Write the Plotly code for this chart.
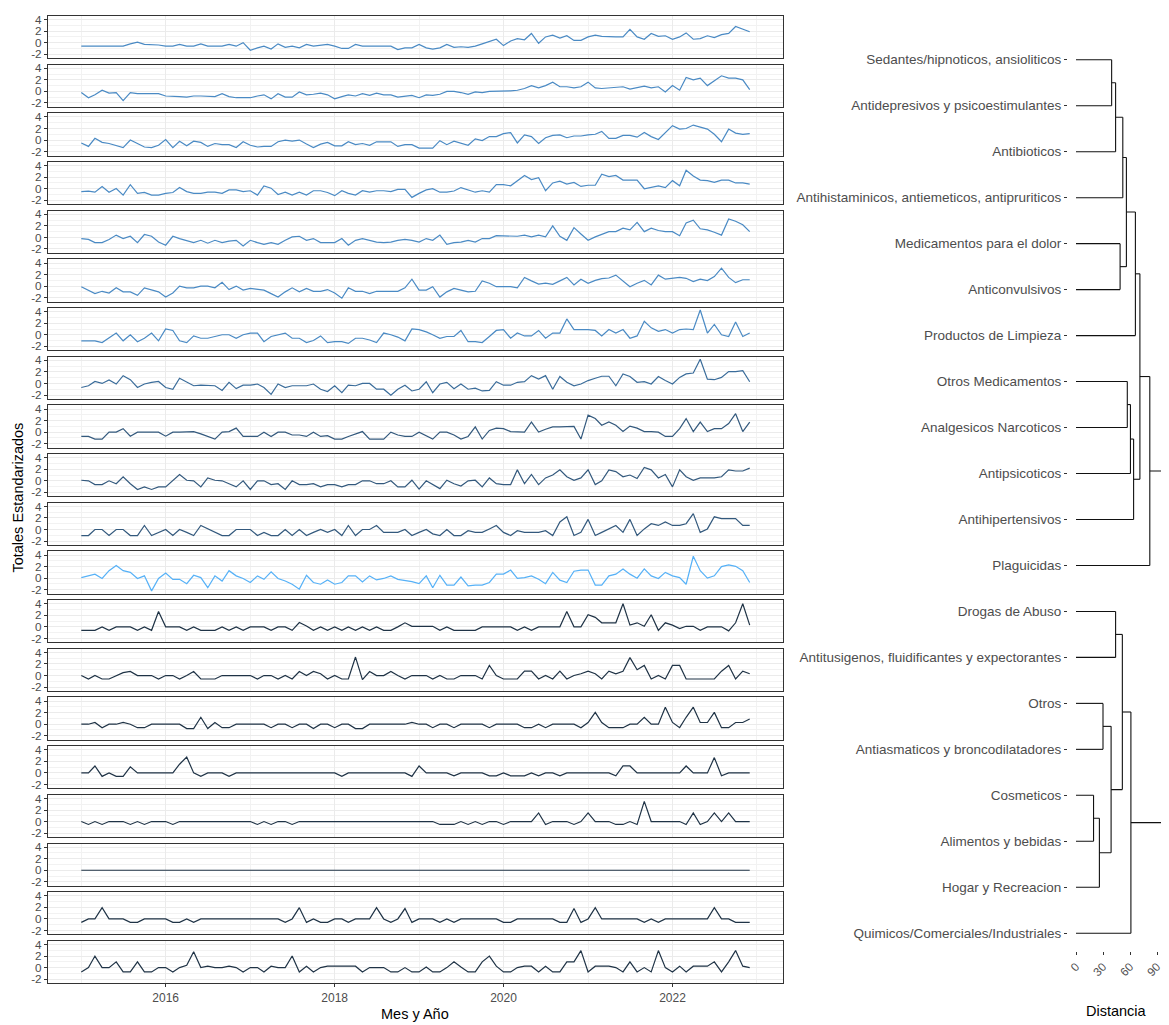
import plotly.graph_objects as go
import pandas as pd

# ---------------- data ----------------
months = pd.date_range("2015-01-01", "2022-12-01", freq="MS")

p01 = [-0.6,-0.6,-0.6,-0.6,-0.6,-0.6,-0.6,-0.2,0.1,-0.3,-0.3,-0.4,
       -0.6,-0.6,-0.3,-0.6,-0.6,-0.2,-0.6,-0.6,-0.6,-0.3,-0.6,0.0,
       -1.3,-0.9,-0.6,-1.1,-0.2,-0.8,-0.6,-0.9,-0.3,-0.6,-0.4,-0.3,
       -0.6,-1.0,-1.0,-0.3,-0.6,-0.6,-0.6,-0.6,-0.6,-1.2,-0.9,-0.9,
       -0.3,-0.9,-1.1,-0.9,-0.3,-0.8,-0.7,-0.8,-0.6,-0.2,0.2,0.6,
       -0.5,0.3,0.7,0.5,1.6,-0.1,1.0,1.3,0.8,1.2,0.4,0.4,
       1.0,1.3,1.1,1.0,1.0,1.0,2.3,1.0,0.6,1.6,1.1,1.2,
       0.6,1.0,1.7,0.6,0.7,1.2,0.9,1.4,1.6,2.8,2.3,1.9]
p02 = [-0.2,-1.1,-0.6,0.2,-0.3,-0.2,-1.6,-0.2,-0.4,-0.4,-0.4,-0.4,
       -0.8,-0.8,-0.9,-1.0,-0.8,-0.8,-0.9,-0.9,-0.4,-0.9,-1.1,-1.1,
       -1.1,-0.8,-0.6,-1.3,-0.4,-1.0,-1.0,-0.1,-0.6,-0.5,-0.3,-0.6,
       -1.3,-0.9,-0.6,-0.8,-0.4,-0.7,-0.3,-0.6,-0.6,-1.0,-0.9,-0.7,
       -1.1,-0.6,-0.7,-0.5,0.0,0.0,-0.2,-0.5,-0.1,-0.2,0.0,0.0,
       0.0,0.1,0.2,0.5,1.0,0.6,1.0,1.6,0.8,0.8,0.6,0.8,
       1.6,0.6,0.5,0.6,0.8,0.8,0.4,0.6,0.9,0.6,0.8,-0.1,
       1.0,0.2,2.4,2.0,2.3,1.0,1.8,2.7,2.3,2.3,2.0,0.3]
p03 = [-0.5,-1.1,0.3,-0.4,-0.6,-0.9,-1.3,0.0,-0.6,-1.2,-1.3,-0.9,
       0.1,-1.3,-0.2,-1.0,-0.2,-0.4,-1.1,-0.6,-0.8,-0.8,-1.3,-0.3,
       -0.9,-1.2,-1.1,-1.1,-0.3,0.0,-0.2,0.0,-0.7,-1.3,-0.7,-0.4,
       -1.0,-1.0,-0.3,-0.8,-0.6,-0.9,-0.3,-0.3,-0.3,-1.1,-0.8,-0.8,
       -1.4,-1.4,-1.4,-0.1,-0.8,-0.2,-0.5,-0.9,0.2,-0.1,0.6,0.6,
       1.1,1.3,-0.5,0.9,0.6,-0.6,0.4,0.8,0.9,0.4,0.7,0.7,
       0.9,1.0,1.5,0.3,0.3,0.8,0.8,0.5,1.3,0.6,0.1,1.3,
       2.5,1.9,2.0,2.6,2.3,1.9,1.0,-0.3,1.9,1.2,1.0,1.1]
p04 = [-0.5,-0.4,-0.6,0.4,-0.6,0.05,-1.1,0.7,-0.8,-0.65,-1.1,-1.1,
       -0.8,-0.65,0.2,-0.5,-0.8,-0.8,-0.6,-0.6,-0.8,-0.2,-0.2,-0.5,
       -0.35,-1.1,0.5,0.1,-1.0,-0.6,-1.1,-0.6,-1.1,-0.35,-0.35,-0.65,
       -1.2,-0.35,-0.8,-1.1,-0.35,-0.6,-0.35,-0.35,-0.5,-0.1,-0.1,-1.5,
       -0.8,-0.2,0.0,-0.6,-0.6,-0.4,0.2,-0.2,-0.6,-0.35,-0.6,0.7,
       0.7,0.5,1.3,2.3,1.6,1.9,-0.35,1.0,1.3,0.8,1.1,0.4,
       0.6,0.6,2.5,2.1,2.3,1.5,1.5,1.5,0.0,0.2,0.5,0.2,
       1.4,0.5,3.2,2.2,1.5,1.4,1.1,1.5,1.5,1.0,1.0,0.8]
p05 = [-0.2,-0.35,-0.9,-0.9,-0.35,0.4,-0.2,0.2,-0.9,0.5,0.2,-0.8,
       -1.35,0.2,-0.2,-0.6,-0.9,-0.5,-1.0,-0.5,-0.9,-0.65,-0.5,-1.5,
       -0.5,-0.9,-1.2,-0.9,-1.2,-0.5,0.1,0.2,-0.5,-0.2,-0.9,-0.9,
       -0.9,-0.2,-1.35,-0.5,-0.2,-0.5,-0.8,-0.9,-0.8,-0.5,-0.35,-0.5,
       -0.8,-0.2,-0.5,0.4,-1.2,-0.9,-0.8,-0.5,-0.8,-0.2,-0.2,0.3,
       0.3,0.2,0.2,0.4,0.1,0.4,0.1,2.0,0.2,-0.5,1.7,0.6,
       -0.5,0.1,0.5,1.0,1.0,1.6,1.3,2.6,1.0,1.6,1.2,1.0,
       1.0,0.3,2.5,3.0,1.5,1.3,0.9,0.4,3.2,2.8,2.2,1.0]
p06 = [-0.1,-0.7,-1.3,-0.9,-1.2,-0.3,-1.0,-1.0,-1.6,-0.3,-0.6,-1.0,
       -1.9,-1.2,0.0,-0.3,-0.3,0.0,0.0,-0.3,0.65,-0.6,0.0,-0.7,
       -0.4,-0.6,-0.7,-1.3,-1.9,-1.0,-0.3,-1.0,-0.4,-0.9,-0.9,-0.6,
       -1.2,-2.1,-0.3,-0.9,-0.9,-1.3,-0.9,-0.9,-0.9,-0.9,-0.3,1.2,
       -0.7,-0.7,-0.1,-1.9,-1.0,-0.4,-0.7,-1.0,-0.9,0.9,0.5,-0.1,
       -0.1,-0.1,-0.3,1.5,0.9,0.35,0.5,0.3,0.9,1.5,0.2,1.2,
       0.5,1.0,1.3,1.4,1.9,0.8,-0.1,0.5,1.0,0.2,1.9,1.2,
       1.35,1.5,1.35,0.8,1.2,0.95,1.65,3.1,1.5,0.6,1.1,1.1]
p07 = [-1.05,-1.05,-1.05,-1.35,-0.6,0.3,-1.05,0.0,-1.2,-0.6,0.3,-1.05,
       1.0,0.75,-1.05,-1.35,-0.2,-0.6,-0.6,-0.3,0.0,0.0,-0.6,0.0,
       0.3,0.3,-1.2,-0.3,0.0,0.3,-0.6,-0.6,-1.35,-1.0,-0.2,-1.35,
       -1.2,-1.2,-1.5,-0.6,-0.6,-0.9,-1.35,0.3,0.0,-0.4,-1.05,1.0,
       0.9,0.5,0.0,-0.6,-0.3,-0.3,0.75,-1.2,-1.2,-1.35,-0.3,0.75,
       0.9,-0.6,0.3,-0.2,-0.2,0.75,-0.6,0.3,0.3,2.75,0.9,0.9,
       0.9,0.75,-0.2,0.9,0.3,0.9,-0.6,-0.2,2.35,1.2,0.6,0.9,
       0.3,0.9,1.0,0.9,4.3,0.3,1.8,0.0,-0.3,2.2,-0.3,0.3]
p08 = [-0.7,-0.4,0.35,0.0,0.6,-0.1,1.35,0.65,-0.7,-0.1,0.2,0.35,
       -0.7,-1.0,0.9,0.2,-0.4,-0.3,-0.4,-0.4,-1.2,0.2,-0.9,-0.3,
       -0.3,-0.1,-0.7,-1.9,-0.1,-0.7,-0.4,-0.4,-0.4,-0.1,-1.0,-1.4,
       -0.4,-1.6,-0.3,-0.4,0.0,0.0,-1.0,-1.0,-2.05,-1.0,-0.3,-1.3,
       -1.0,0.3,-1.6,-0.1,0.2,-0.9,-0.1,-1.0,-0.8,-1.3,-1.2,0.3,
       -0.3,-0.3,0.2,0.3,1.35,0.75,1.35,-1.0,1.2,0.2,-0.4,-0.1,
       0.5,0.9,1.25,1.25,-0.4,1.65,1.2,0.2,0.3,-0.1,1.2,0.5,
       -0.1,1.05,1.65,1.8,4.2,0.75,0.65,1.05,2.05,2.05,2.2,0.3]
p09 = [-0.75,-0.75,-1.2,-1.2,0.0,0.0,0.6,-0.7,0.0,0.0,0.0,0.0,
       -0.7,0.0,0.0,0.0,0.1,-0.3,-0.75,-1.2,0.0,0.1,0.7,-0.75,
       -0.75,-0.75,0.0,-0.75,0.0,0.0,-0.5,-0.5,-0.75,0.0,-0.75,-0.6,
       -1.2,-1.2,-0.75,-0.3,0.1,-1.2,-1.2,-1.2,0.0,-0.5,-0.75,-0.75,
       0.0,-0.6,-1.2,0.0,0.0,-0.5,-1.2,-0.75,0.9,-1.2,0.3,0.7,
       0.6,0.1,0.0,0.0,1.75,0.0,0.5,0.9,0.9,1.0,1.0,-1.2,
       2.95,2.35,1.2,1.75,1.2,0.1,1.05,0.7,0.1,0.1,0.0,-0.75,
       -0.75,0.6,2.35,0.1,1.75,0.1,0.6,0.6,1.5,3.2,0.1,1.75]
p10 = [0.1,0.0,-0.65,-0.65,0.0,-0.5,0.7,-0.5,-1.5,-1.05,-1.5,-1.05,
       -1.05,0.0,1.1,0.1,0.0,-1.05,0.5,0.1,0.0,-0.5,-1.05,0.0,
       -1.5,0.0,0.0,-0.65,-0.5,-1.5,0.0,-0.65,-0.65,-0.5,-1.05,-0.65,
       -0.65,-1.05,-0.65,-0.65,0.0,0.0,-0.5,-0.5,0.0,-1.05,-1.05,0.1,
       -1.45,0.0,-0.65,-1.35,0.1,-0.5,-0.9,0.0,0.1,-1.05,0.5,-0.5,
       -0.65,-0.65,1.9,-0.5,1.1,-0.65,0.5,1.0,1.9,0.7,0.1,0.5,
       1.9,-0.65,0.0,1.9,1.6,0.7,1.0,0.4,2.3,1.9,0.5,1.1,
       -1.05,1.9,0.7,0.1,0.5,0.5,0.5,0.7,1.9,1.7,1.7,2.2]
p11 = [-1.05,-1.05,0.0,0.0,-1.05,0.0,0.0,-1.05,-1.05,0.7,-1.05,-0.5,
       0.0,-1.05,0.0,-0.5,-1.05,0.7,0.1,-0.5,-1.05,-1.05,0.0,0.0,
       0.0,-1.05,-0.5,-1.05,-1.05,0.0,-1.05,0.0,-1.05,-0.5,0.0,-0.5,
       0.0,-1.05,0.7,-1.05,0.0,0.0,0.7,-0.5,-0.5,-0.5,0.0,-1.05,
       -0.5,0.0,-0.75,-1.05,0.0,-1.05,-1.05,-0.2,-0.5,-0.5,0.1,0.7,
       -0.5,-1.05,-0.2,-0.5,-0.5,-0.5,-0.2,-1.05,1.3,2.2,-1.05,-0.5,
       1.75,-1.05,-0.5,0.1,0.7,-0.5,1.75,-1.05,0.1,1.0,0.7,1.3,
       0.7,0.7,1.0,2.75,-0.5,0.1,2.2,1.9,1.9,1.9,0.7,0.7]
p12 = [0.1,0.4,0.7,-0.05,1.3,2.2,1.3,1.0,-0.05,0.4,-2.2,-0.05,
       0.9,-0.2,-0.2,-0.95,0.5,0.1,-1.65,0.4,-0.5,1.3,0.4,-0.05,
       -0.75,0.4,-0.2,1.1,-0.05,-0.5,-1.05,-1.9,0.5,-0.75,-1.05,-0.3,
       -1.05,-0.75,0.4,0.4,-0.65,0.4,-0.3,-0.05,0.4,-0.2,-0.35,-0.6,
       -0.95,0.4,-1.65,0.5,-1.2,-1.2,0.2,-1.35,-1.2,-1.2,-0.75,0.7,
       0.7,1.4,-0.05,0.1,0.4,-0.2,-0.95,1.0,-0.35,-0.75,1.2,1.4,
       1.4,-1.2,-1.2,0.4,0.7,1.6,0.7,0.0,1.6,0.4,-0.05,1.0,
       0.4,0.1,-1.05,3.8,1.3,0.0,0.4,2.0,2.3,2.05,1.3,-0.75]
p13 = [-0.6,-0.6,-0.6,0.0,-0.6,0.0,0.0,0.0,-0.6,0.0,-0.6,2.65,
       0.0,0.0,0.0,-0.6,0.0,-0.6,-0.6,-0.6,0.0,-0.6,0.0,-0.6,
       0.0,0.0,0.0,-0.6,0.0,0.0,-0.6,0.75,0.15,-0.6,0.0,-0.6,
       0.0,-0.6,0.0,-0.6,0.0,-0.6,0.0,-0.6,-0.6,0.0,0.7,0.1,
       0.1,0.1,0.1,-0.6,0.0,-0.6,-0.6,-0.6,-0.6,0.0,0.0,0.0,
       0.0,0.0,-0.6,0.0,-0.6,0.0,0.0,0.0,0.0,2.65,0.0,0.0,
       2.1,1.65,0.7,0.7,0.7,4.0,0.3,0.7,0.1,2.1,-0.6,0.7,
       0.3,-0.3,0.1,0.1,-0.6,0.0,0.0,0.0,-0.7,0.7,4.0,0.3]
p14 = [0.0,-0.6,0.0,-0.6,-0.6,0.0,0.5,0.7,0.0,0.0,0.0,-0.6,
       0.0,0.0,-0.6,0.0,0.7,-0.6,-0.6,-0.6,0.0,0.0,0.0,0.0,
       0.0,-0.6,0.0,0.0,-0.6,0.0,-0.6,0.7,0.0,0.7,0.3,-0.6,
       0.0,-0.6,-0.6,3.2,-0.7,0.7,0.0,0.0,0.7,0.0,-0.6,0.0,
       0.0,0.0,-0.6,0.0,-0.6,-0.6,0.0,0.0,0.0,-0.6,1.75,0.0,
       -0.6,-0.6,-0.6,0.75,0.75,-0.6,0.0,-0.6,0.75,-0.6,0.0,0.3,
       0.75,0.3,-0.6,0.75,0.3,0.75,3.1,1.0,1.75,-0.6,0.0,-0.6,
       1.75,1.75,-0.6,-0.6,-0.6,-0.6,-0.6,0.75,1.75,-0.6,0.75,0.3]
p15 = [0.0,0.0,0.3,-0.6,0.0,0.0,0.3,0.0,-0.6,-0.6,0.0,0.0,
       0.0,0.0,0.0,-0.75,-0.75,1.2,-0.75,0.3,-0.6,-0.6,0.0,0.0,
       0.0,0.0,0.0,-0.6,0.0,0.0,-0.6,0.0,0.0,-0.75,0.0,0.0,
       -0.6,0.0,0.0,-0.75,-0.75,0.0,0.0,0.0,0.0,0.0,0.0,0.3,
       0.0,0.0,-0.6,0.0,0.0,-0.6,0.0,0.0,0.0,0.0,-0.6,0.0,
       0.0,0.0,0.0,-0.6,-0.6,0.0,-0.6,0.0,0.0,0.0,0.0,-0.6,
       0.3,2.05,0.3,-0.6,-0.6,-0.6,0.0,0.0,1.2,0.0,0.0,2.95,
       0.3,-0.6,1.2,2.95,0.3,0.3,2.05,-0.6,-0.6,0.3,0.3,0.9]
p16 = [0.0,0.0,1.2,-0.6,0.0,-0.6,-0.6,1.05,0.0,0.0,0.0,0.0,
       0.0,0.0,1.5,2.75,0.0,-0.6,0.0,0.0,0.0,-0.6,0.0,0.0,
       0.0,0.0,0.0,0.0,0.0,0.0,0.0,0.0,0.0,0.0,0.0,0.0,
       0.0,-0.6,0.0,0.0,0.0,0.0,0.0,0.0,0.0,0.0,0.0,-0.6,
       1.2,0.0,0.0,0.0,0.0,-0.5,0.0,0.0,0.0,0.0,-0.5,-0.5,
       0.0,-0.5,-0.5,-0.5,0.0,-0.5,0.0,0.0,-0.5,0.0,0.0,0.0,
       0.0,0.0,0.0,0.0,-0.5,1.2,1.2,0.0,0.0,0.0,0.0,0.0,
       0.0,0.0,1.2,0.0,0.0,0.0,2.65,-0.5,0.0,0.0,0.0,0.0]
p17 = [0.0,-0.5,0.0,-0.5,0.0,0.0,0.0,-0.5,0.0,-0.5,0.0,0.0,
       0.0,-0.5,0.0,0.0,0.0,0.0,0.0,0.0,0.0,0.0,0.0,0.0,
       0.0,-0.5,0.0,-0.5,0.0,0.0,-0.5,0.0,0.0,0.0,0.0,0.0,
       0.0,0.0,0.0,0.0,0.0,0.0,0.0,0.0,0.0,0.0,0.0,0.0,
       0.0,0.0,0.0,-0.5,-0.5,-0.5,0.0,-0.5,0.0,-0.5,0.0,0.0,
       -0.5,0.0,0.0,0.0,0.0,1.5,-0.5,0.0,0.0,0.0,-0.5,0.0,
       1.5,0.0,0.0,0.0,-0.5,-0.5,0.0,-0.5,3.5,0.0,0.0,0.0,
       0.0,0.0,-0.5,1.5,-0.5,0.0,1.5,0.0,1.5,0.0,0.0,0.0]
p18 = [0.0] * 96
p19 = [-0.6,0.0,0.0,1.95,0.0,0.0,0.0,-0.6,-0.6,0.0,0.0,0.0,
       0.0,-0.6,-0.6,0.0,-0.6,0.0,0.0,0.0,0.0,0.0,0.0,0.0,
       0.0,0.0,0.0,0.0,0.0,-0.6,0.0,1.95,-0.6,0.0,-0.6,-0.6,
       0.0,0.0,-0.6,0.0,0.0,0.0,1.95,0.0,-0.6,0.0,1.8,-0.6,
       0.0,0.0,0.0,-0.6,0.0,-0.6,0.0,0.0,0.0,0.0,0.0,0.0,
       -0.6,-0.6,0.0,0.0,0.0,0.0,0.0,0.0,-0.6,-0.6,1.8,-0.6,
       0.0,1.95,0.0,0.0,0.0,0.0,0.0,0.0,-0.6,0.0,-0.6,0.0,
       0.0,0.0,0.0,0.0,0.0,0.0,1.95,0.0,0.0,-0.6,-0.6,-0.6]
p20 = [-0.75,0.0,2.0,0.0,0.0,1.0,-0.75,-0.75,1.0,-0.75,-0.75,0.0,
       0.0,-0.75,0.0,0.4,2.75,0.0,0.25,0.0,0.0,0.25,0.0,-0.75,
       0.0,0.0,-0.75,0.25,0.0,0.0,2.0,-0.75,0.25,-0.75,0.0,0.25,
       0.25,0.25,0.25,0.25,-0.75,0.0,0.0,0.0,-0.75,-0.75,0.0,-0.75,
       -0.75,0.1,-0.75,-0.75,0.0,1.0,0.1,-0.75,-0.75,1.0,2.0,0.25,
       -0.75,-0.75,0.0,0.25,0.25,-0.75,0.25,-0.75,-0.75,1.0,1.0,2.95,
       -0.75,0.25,0.25,0.25,0.0,-0.75,1.0,-0.75,0.0,-0.75,2.95,0.0,
       -0.75,0.25,-0.75,0.25,0.25,0.25,1.0,-0.75,1.0,2.95,0.25,0.0]

panels = [p01, p02, p03, p04, p05, p06, p07, p08, p09, p10,
          p11, p12, p13, p14, p15, p16, p17, p18, p19, p20]

y_ticks = [-2, 0, 2, 4]
x_tick_years = ["2016", "2018", "2020", "2022"]

leaf_labels = [
    "Sedantes/hipnoticos, ansioliticos",
    "Antidepresivos y psicoestimulantes",
    "Antibioticos",
    "Antihistaminicos, antiemeticos, antipruriticos",
    "Medicamentos para el dolor",
    "Anticonvulsivos",
    "Productos de Limpieza",
    "Otros Medicamentos",
    "Analgesicos Narcoticos",
    "Antipsicoticos",
    "Antihipertensivos",
    "Plaguicidas",
    "Drogas de Abuso",
    "Antitusigenos, fluidificantes y expectorantes",
    "Otros",
    "Antiasmaticos y broncodilatadores",
    "Cosmeticos",
    "Alimentos y bebidas",
    "Hogar y Recreacion",
    "Quimicos/Comerciales/Industriales",
]
# merges: (child a, child b, height); leaves 0..19, new nodes 20, 21, ...
merge_a = [0, 20, 21, 4, 22, 24, 7, 26, 27, 25, 29, 12, 14, 16, 33, 32, 31, 36, 30]
merge_b = [1, 2, 3, 5, 23, 6, 8, 9, 10, 28, 11, 13, 15, 17, 18, 34, 35, 19, 37]
merge_h = [39.6, 44, 52, 49, 56, 66, 57, 60.5, 64, 71, 82, 44, 30, 19.5, 26, 39, 51.5, 61, 125]
dist_ticks = [0, 30, 60, 90]

# ---------------- styling ----------------
# page body adds an 8px offset; the figure is sized so it ends at the window edge
OFF = 8
W, H = 1169 - OFF, 1025 - OFF
colors = ["#4A8AC4"] * 7 + ["#3A6C9A"] + ["#33597D"] * 3 + ["#56B1F7"] + ["#1F3346"] * 8


def px_x(p):
    return (p - OFF) / W


def px_y(p):
    return 1 - (p - OFF) / H


fig = go.Figure()
layout = {}

left_x0, left_x1 = 48, 783
top0, ph, pitch = 13, 42.4, 48.92
x_range = ["2014-08-10", "2023-04-24"]
tick_font = dict(family="Liberation Sans, Arial, sans-serif", size=11.7, color="#4D4D4D")
label_font = dict(family="Liberation Sans, Arial, sans-serif", size=13.5, color="#4D4D4D")

n_pan = len(panels)
for i, vals in enumerate(panels):
    k = i + 1
    xa = "x" if k == 1 else f"x{k}"
    ya = "y" if k == 1 else f"y{k}"
    fig.add_trace(go.Scatter(x=months, y=vals, mode="lines",
                             line=dict(color=colors[i], width=1.2),
                             xaxis=xa, yaxis=ya, showlegend=False,
                             hoverinfo="skip"))
    t = top0 + i * pitch
    b = t + ph
    last = (i == n_pan - 1)
    layout[f"xaxis{k}"] = dict(
        domain=[px_x(left_x0), px_x(left_x1)], anchor=ya, type="date",
        range=x_range, showline=True, mirror=True, linecolor="#333333", linewidth=1.1,
        tickmode="array", tickvals=[f"{y}-01-01" for y in x_tick_years],
        ticktext=x_tick_years if last else [""] * len(x_tick_years),
        showticklabels=last, ticks="outside" if last else "", ticklen=3, tickcolor="#333333",
        tickfont=dict(family="Liberation Sans, Arial, sans-serif", size=12, color="#4D4D4D"),
        showgrid=True, gridcolor="#EBEBEB", gridwidth=1, zeroline=False,
        minor=dict(tickvals=[f"{y}-01-01" for y in range(2015, 2024, 2)],
                   showgrid=True, gridcolor="#F2F2F2", gridwidth=0.6, ticks=""),
    )
    layout[f"yaxis{k}"] = dict(
        domain=[px_y(b), px_y(t)], anchor=xa, range=[-2.68, 4.63],
        showline=True, mirror=True, linecolor="#333333", linewidth=1.1,
        tickmode="array", tickvals=y_ticks, ticktext=[str(v) for v in y_ticks],
        ticks="outside", ticklen=3, tickcolor="#333333", tickfont=tick_font,
        showgrid=True, gridcolor="#EBEBEB", gridwidth=1, zeroline=False,
        minor=dict(tickvals=[-1, 1, 3], showgrid=True, gridcolor="#F2F2F2",
                   gridwidth=0.6, ticks=""),
    )

# ---------------- dendrogram ----------------
n_leaf = len(leaf_labels)
pos = {j: j + 1 for j in range(n_leaf)}
hgt = {j: 0.0 for j in range(n_leaf)}
sx, sy = [], []
for m, (a, b, h) in enumerate(zip(merge_a, merge_b, merge_h)):
    node = n_leaf + m
    for c in (a, b):
        sx += [hgt[c], h, None]
        sy += [pos[c], pos[c], None]
    sx += [h, h, None]
    sy += [pos[a], pos[b], None]
    pos[node] = (pos[a] + pos[b]) / 2
    hgt[node] = h

kd = n_pan + 1
fig.add_trace(go.Scatter(x=sx, y=sy, mode="lines", line=dict(color="#111111", width=1.1),
                         xaxis=f"x{kd}", yaxis=f"y{kd}", showlegend=False, hoverinfo="skip"))

d_x0, d_x1 = 1068, 1169
d_top, d_bot = 10, 953
leaf0_px, leaf_step = 57, 46.2
zero_px, px_per = 1076, 0.9
layout[f"xaxis{kd}"] = dict(
    domain=[px_x(d_x0), 1.0], anchor=f"y{kd}",
    range=[(d_x0 - zero_px) / px_per, (d_x1 - zero_px) / px_per],
    showline=False, showgrid=False, zeroline=False,
    tickmode="array", tickvals=dist_ticks, ticktext=[str(v) for v in dist_ticks],
    ticks="outside", ticklen=3, tickcolor="#333333", tickangle=-45, tickfont=tick_font,
)
layout[f"yaxis{kd}"] = dict(
    domain=[px_y(d_bot), px_y(d_top)], anchor=f"x{kd}",
    range=[1 + (d_bot - leaf0_px) / leaf_step, 1 - (leaf0_px - d_top) / leaf_step],
    showline=False, showgrid=False, zeroline=False,
    tickmode="array", tickvals=list(range(1, n_leaf + 1)), ticktext=leaf_labels,
    ticks="outside", ticklen=3, tickcolor="#333333", tickfont=label_font,
)

title_font = dict(family="Liberation Sans, Arial, sans-serif", size=14.5, color="#000000")
annotations = [
    dict(text="Mes y Año", x=px_x(415), y=px_y(1016), xref="paper", yref="paper",
         showarrow=False, font=title_font, xanchor="center", yanchor="middle"),
    dict(text="Totales Estandarizados", x=px_x(18), y=px_y(497), xref="paper", yref="paper",
         showarrow=False, font=title_font, textangle=-90, xanchor="center", yanchor="middle"),
    dict(text="Distancia", x=px_x(1116), y=px_y(1013), xref="paper", yref="paper",
         showarrow=False, font=title_font, xanchor="center", yanchor="middle"),
]

fig.update_layout(
    width=W, height=H, margin=dict(l=0, r=0, t=0, b=0),
    paper_bgcolor="white", plot_bgcolor="white",
    annotations=annotations, showlegend=False,
    **layout,
)

fig.write_html("out.html")
